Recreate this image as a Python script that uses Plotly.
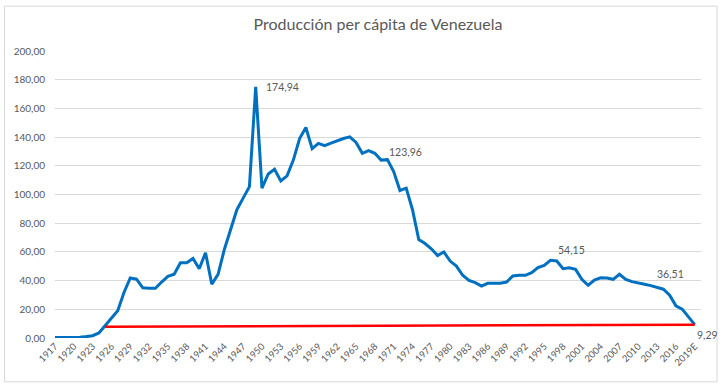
import plotly.graph_objects as go

years = [str(y) for y in range(1917, 2019)] + ["2019E"]
produccion = [
    0.3, 0.3, 0.4, 0.5, 0.6, 1.0, 1.6, 3.5, 8.5, 13.6,          # 1917-1926
    19.0, 31.7, 41.8, 41.0, 35.0, 34.6, 34.6, 39.0, 43.0, 44.4,  # 1927-1936
    52.4, 52.4, 55.4, 48.3, 59.4, 37.4, 44.4, 61.7, 76.0, 89.4,  # 1937-1946
    97.5, 105.5, 174.94, 104.4, 114.3, 117.6, 109.5, 113.0, 124.0, 139.0,  # 1947-1956
    146.7, 132.0, 135.6, 134.0, 135.8, 137.5, 139.0, 140.2, 136.3, 128.7,  # 1957-1966
    130.5, 128.7, 123.96, 124.3, 116.0, 102.8, 104.4, 89.4, 68.6, 65.8,    # 1967-1976
    62.2, 57.5, 60.0, 53.6, 50.1, 43.7, 40.2, 38.6, 36.2, 38.1,  # 1977-1986
    38.0, 38.1, 39.0, 43.2, 43.7, 43.7, 45.5, 49.0, 50.6, 54.15, # 1987-1996
    53.7, 48.3, 49.0, 47.8, 40.9, 36.7, 40.4, 42.0, 41.8, 40.9,  # 1997-2006
    44.4, 40.9, 39.3, 38.6, 37.4, 36.51, 35.1, 34.0, 29.8, 22.4, # 2007-2016
    20.1, 15.0, 9.29,                                             # 2017-2019E
]
assert len(produccion) == len(years)

red_years = ["1925", "2019E"]
red_values = [7.8, 9.29]

labelled = {"1949": (8, 0),
            "1969": (6, 8),
            "1996": (6, 10),
            "2012": (4, 12),
            "2019E": (0, -10)}

y_ticks = list(range(0, 201, 20))
x_ticks = years[::3]

GREY = "#595959"
FONT = "Lato, 'Open Sans', sans-serif"

fig = go.Figure()
fig.add_trace(go.Scatter(x=years, y=produccion, mode="lines",
                         line=dict(color="#0070C0", width=3), hoverinfo="x+y"))
fig.add_trace(go.Scatter(x=red_years, y=red_values, mode="lines",
                         line=dict(color="#FF0000", width=2.5), connectgaps=True))

for yr, (xs, ys) in labelled.items():
    i = years.index(yr)
    v = produccion[i]
    fig.add_annotation(x=i, y=v, text=f"{v:.2f}".replace(".", ","),
                       showarrow=False, xanchor="left", yanchor="middle",
                       xshift=xs, yshift=ys,
                       font=dict(size=10.5, color=GREY, family=FONT))

L, R, T, B = 55, 22, 50.5, 49.5
W, H = 723, 388
pw, ph = W - L - R, H - T - B
def px(x): return (x - L) / pw
def py(y): return (H - B - y) / ph
fig.add_shape(type="rect", xref="paper", yref="paper",
              x0=px(4.5), x1=px(717), y0=py(382.5), y1=py(5.5),
              line=dict(color="#d9d9d9", width=1), layer="below")

fig.update_layout(
    width=W, height=H,
    margin=dict(l=L, r=R, t=T, b=B, autoexpand=False),
    paper_bgcolor="white", plot_bgcolor="white",
    separators=",.",
    showlegend=False,
    title=dict(text="Producción per cápita de Venezuela", x=0.5, xref="paper",
               xanchor="center", y=1 - 24 / H, yanchor="middle",
               font=dict(size=16, color=GREY, family=FONT)),
    font=dict(family=FONT, color=GREY),
)
fig.update_xaxes(type="category", categoryorder="array", categoryarray=years,
                 range=[0, len(years)], tickmode="array", tickvals=x_ticks,
                 ticktext=x_ticks, tickangle=-45, showgrid=False,
                 showline=False, zeroline=False, ticks="", automargin=False,
                 tickfont=dict(size=9.5, color=GREY, family=FONT))
fig.update_yaxes(range=[0, 200], tickvals=y_ticks, tickformat=".2f",
                 showgrid=True, gridcolor="#d9d9d9", gridwidth=1,
                 zeroline=False, showline=False, ticks="", automargin=False,
                 ticklabelstandoff=9,
                 tickfont=dict(size=10, color=GREY, family=FONT))

fig.write_html("out.html", config={"displayModeBar": False},
               post_script="document.body.style.margin='0';document.body.style.overflow='hidden';")
